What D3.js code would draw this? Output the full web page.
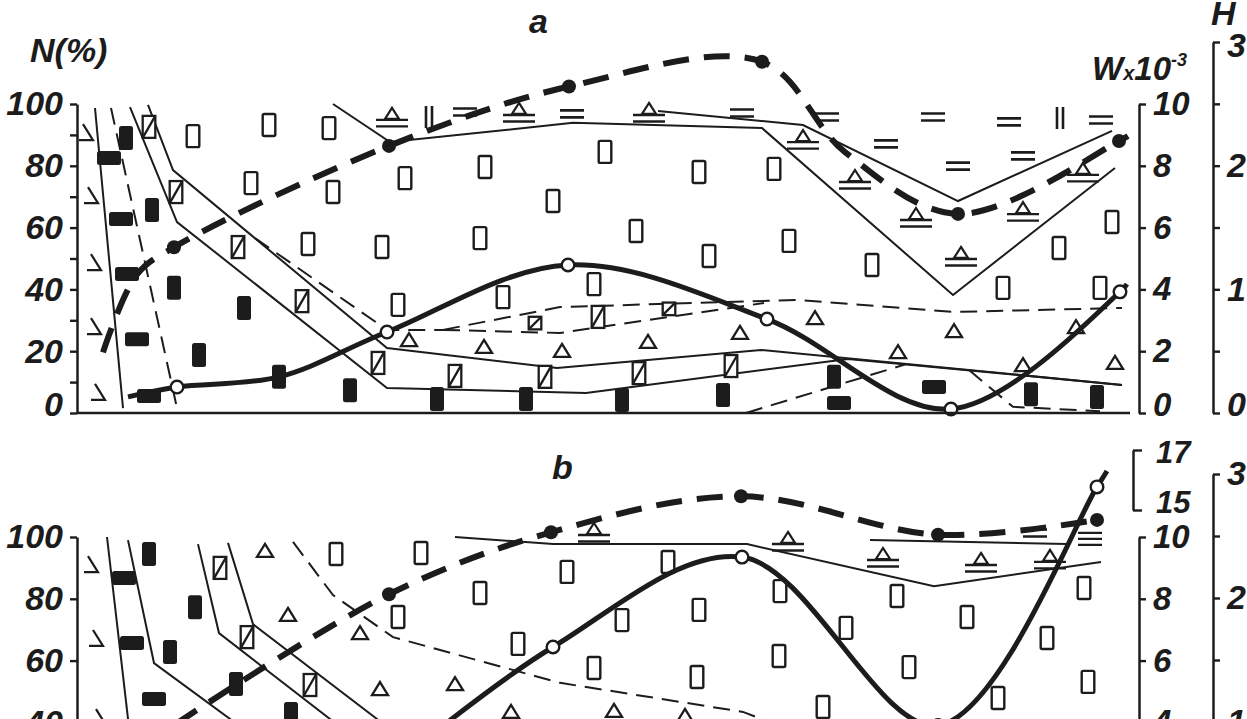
<!DOCTYPE html>
<html><head><meta charset="utf-8">
<script src="https://cdn.jsdelivr.net/npm/d3@7"></script>
<style>
html,body{margin:0;padding:0;background:#fff;overflow:hidden}
svg{display:block}
text{font-family:"Liberation Sans",Arial,sans-serif;font-weight:bold;font-style:italic;fill:#1c1c1c}
</style></head><body>
<svg id="c" width="1247" height="719"></svg>
<script>
// ---------- DATA (x = distance units, N = %, W = x10^-3, H = index) ----------
const X_DOMAIN = [0, 105.2];
const N_TICKS_A = [0,10,20,30,40,50,60,70,80,90,100];
const N_TICKS_B = [0,20,40,60,80,100];
const W_TICKS = [0,2,4,6,8,10];
const W_BREAK_TICKS = [15,17];
const H_TICKS = [0,0.5,1,1.5,2,2.5,3];

// panel a : boundary lines [x, N]
const aL1 = [[1.8,98.7],[4.6,1.6]];
const aL2 = [[3.4,98.7],[10,1.6]];
const aL3 = [[5.3,99],[10,61.8],[31,8.1],[50.9,6.5],[77.1,17.5],[104.5,9.1]];
const aL4 = [[7.1,99.7],[9.6,78.6],[31,21],[48,14.6],[68.4,20.4],[104.5,9.1]];
const aD1 = [[17.8,56.6],[31,26.9],[36.6,26.9]];
const aD1a = [[36.6,26.9],[48.3,34.3],[72,36.6],[87.7,32.7],[104.5,34]];
const aD1b = [[36.6,26.9],[48.3,25.9],[68.7,35.6]];
const aD2 = [[66.9,0],[83,15.9]];
const aD3 = [[89.2,13.9],[93.6,2],[102.3,0.6]];
const aT1 = [[25.6,100],[31.3,87.7],[49.6,93.9],[68.5,92.2],[87.6,38.2],[103.8,79.3]];
const aT2 = [[58.1,97.7],[72.6,93.2],[88.1,68.6],[103.5,91.3]];
// panel a : curves [x, value, marker]
const aH = [[2.6,0.49],[6,1.12],[9.7,1.34,1],[31.2,2.16,1],[49.2,2.64,1],[68.5,2.84,1],[76.8,2.11],[88.1,1.61,1],[104.2,2.2,1],[105.1,2.24]];
const aW = [[5.1,0.52],[10,0.84,1],[20.2,1.17],[31,2.62,1],[49.1,4.79,1],[69,3.04,1],[87.4,0.13,1],[104.3,3.92,1],[105,4.17]];
// panel a : glyphs [x, N]
const aAngle = [[1,90.6],[1.5,70.2],[1.8,48.5],[1.8,27.8],[2.2,6.5]];
const aBlackH = [[3.2,82.5],[4.4,62.8],[5,45],[6,23.9],[7.2,5.5],[76.2,3.2],[85.7,8.4]];
const aBlackV = [[4.9,89],[7.5,65.7],[9.7,40.5],[12.2,18.8],[16.7,34],[20.2,11.7],[27.3,7.4],[36,4.5],[44.9,4.5],[54.5,4.2],[64.6,5.8],[75.7,11.7],[95.4,6.1],[102,5.2]];
const aHatch = [[7.2,92.6],[9.9,71.5],[16.1,53.7],[22.5,36.2],[30.1,16.2],[37.8,12],[46.8,11.7],[56.2,12.9],[65.4,15.2],[52.1,31.1]];
const aHatchSmall = [[45.8,29.1],[59.2,33.7]];
const aRect = [[11.6,89.6],[19.2,93.2],[25.2,92.2],[17.4,74.4],[25.6,71.5],[32.8,76],[23.1,54.7],[30.5,53.7],[32.1,35],[40.8,79.6],[52.8,84.5],[47.6,68.6],[40.3,56.6],[55.9,58.9],[62.2,78],[69.7,79],[63.2,50.8],[71.2,55.7],[42.6,37.5],[51.7,41.7],[79.5,47.9],[98.2,53.4],[103.5,61.8],[92.6,40.5],[102.3,40.5]];
const aTri = [[33.2,23.6],[40.7,21.4],[48.5,20.1],[57.1,23],[66.3,25.9],[73.8,30.7],[82.1,19.7],[87.7,26.5],[94.6,15.5],[99.9,27.8],[103.8,16.2]];
const aTriU = [[31.5,95.5],[44.2,97.1],[57.2,97.1],[72.6,88.3],[77.8,75.4],[83.9,63.1],[88.4,50.5],[94.6,65],[100.6,77.7]];
const aEq = [[38.8,97.4],[49.5,96.8],[66.5,97.1],[75,95.8],[85.6,95.8],[80.9,87.1],[88.1,79.9],[93.2,94.2],[94.6,83.2],[102.4,94.8]];
const aBars = [[35.2,95.8],[98.3,95.5]];

// panel b : boundary lines
const bL1 = [[3,100],[5.5,30]];
const bL2 = [[5.1,99],[7.7,59.2],[20.9,27.8]];
const bL3 = [[12.1,97.7],[14.2,68.9],[25.3,41.1],[30.3,28.5]];
const bL4 = [[15.1,98.1],[17.6,71.8],[30,41.1],[35.3,27.8]];
const bD1 = [[21.6,98.4],[25.6,81.2],[31.6,67.6],[48.3,52.8],[66.6,43.4],[71.3,37.5]];
const bT1 = [[37.8,100],[47.6,97.7],[67,97.7],[85.7,84.1],[102.4,91.9]];
const bT2 = [[79.3,99],[99,97.7]];
// panel b : curves
const bH = [[9.8,0.98],[31.2,2.03,1],[47.4,2.53,1],[66.4,2.82,1],[86.1,2.51,1],[102,2.63,1]];
const bW = [[31.2,2.5],[47.6,6.44,1],[66.5,9.35,1],[86.1,3.9,1],[102,15.77,1],[103,16.3]];
// panel b : glyphs
const bAngle = [[1.5,90.9],[2,67],[2.3,41.4]];
const bBlackH = [[4.7,86.7],[5.5,65.7],[7.7,47.6]];
const bBlackV = [[7.2,94.5],[11.8,77.3],[9.3,62.8],[15.9,52.4],[21.4,42.7]];
const bHatch = [[14.3,90],[17,67.6],[23.3,52.1]];
const bTri = [[18.8,95.5],[21.1,74.8],[28.3,68.9],[30.3,50.8],[37.8,52.4],[43.4,43.4],[53.7,43.7],[60.8,42.1]];
const bRect = [[25.9,94.5],[34.4,94.8],[32.1,74.1],[40.3,81.9],[49,88.7],[59.1,91.9],[54.5,73.1],[44.1,65.4],[51.7,57.6],[62.2,76.4],[62,54.7],[70.3,82.5],[76.9,70.6],[70.2,61.5],[74.6,45],[82,80.9],[89,74.1],[83.2,57.9],[97,67.3],[100.7,83.5],[101.1,53.1],[92.1,47.9]];
const bTriU = [[51.7,101.3],[71.1,98.4],[80.6,93.2],[90.4,91.6],[97.3,92.6]];
const bEq = [[95.8,101.3]];
const bTriple = [[101.3,99.4]];

// ---------- DRAWING ----------
const INK = "#1c1c1c";
const svg = d3.select("#c");
const x = d3.scaleLinear().domain(X_DOMAIN).range([77, 1129]);

const A = {
  n: d3.scaleLinear().domain([0,100]).range([413,104]),
  w: d3.scaleLinear().domain([0,10]).range([413,104]),
  h: d3.scaleLinear().domain([0,3]).range([413,42])
};
const B = {
  n: d3.scaleLinear().domain([0,100]).range([846,537]),
  w: d3.scaleLinear().domain([0,10,15,17]).range([846,537,510,450]),
  wAxis: d3.scaleLinear().domain([0,10]).range([846,537]),
  wBreak: d3.scaleLinear().domain([15,17]).range([510,450]),
  h: d3.scaleLinear().domain([0,3]).range([846,474])
};

function poly(g, pts, ys, dashed) {
  g.append("path")
    .attr("d", d3.line().x(d => x(d[0])).y(d => ys(d[1]))(pts))
    .attr("fill","none").attr("stroke",INK).attr("stroke-width",2)
    .attr("stroke-dasharray", dashed ? "17,9" : null);
}

const glyphDraw = {
  angle: g => g.append("path").attr("d","M-4,-9L6,7L-8,7").attr("fill","none").attr("stroke",INK).attr("stroke-width",2.2),
  blackV: g => g.append("rect").attr("x",-7).attr("y",-12).attr("width",14).attr("height",24).attr("rx",2.5).attr("fill",INK),
  blackH: g => g.append("rect").attr("x",-12).attr("y",-7).attr("width",24).attr("height",14).attr("rx",2.5).attr("fill",INK),
  rect: g => g.append("rect").attr("x",-6.3).attr("y",-11).attr("width",12.6).attr("height",22).attr("rx",1.5).attr("fill","#fff").attr("stroke",INK).attr("stroke-width",2.4),
  hatch: g => { g.append("rect").attr("x",-6.3).attr("y",-11).attr("width",12.6).attr("height",22).attr("fill","#fff").attr("stroke",INK).attr("stroke-width",2.3);
                g.append("path").attr("d","M-6.3,11L6.3,-11").attr("stroke",INK).attr("stroke-width",2.3); },
  hatchSmall: g => { g.append("rect").attr("x",-6.3).attr("y",-6.3).attr("width",12.6).attr("height",12.6).attr("fill","#fff").attr("stroke",INK).attr("stroke-width",2.3);
                g.append("path").attr("d","M-6.3,6.3L6.3,-6.3").attr("stroke",INK).attr("stroke-width",2.3); },
  tri: g => g.append("path").attr("d","M0,-7L8,6L-8,6Z").attr("fill","#fff").attr("stroke",INK).attr("stroke-width",2.3).attr("stroke-linejoin","miter"),
  triU: g => { g.append("path").attr("d","M0,-10L7,1L-7,1Z").attr("fill","#fff").attr("stroke",INK).attr("stroke-width",2.2);
               g.append("path").attr("d","M-16,2H16M-16,8.5H16").attr("stroke",INK).attr("stroke-width",2.4); },
  eq: g => g.append("path").attr("d","M-12,-3.5H12M-12,3.5H12").attr("stroke",INK).attr("stroke-width",2.6),
  bars: g => g.append("path").attr("d","M-3,-11V11M3,-11V11").attr("stroke",INK).attr("stroke-width",2.6),
  triple: g => g.append("path").attr("d","M-12,-6H12M-12,0H12M-12,6H12").attr("stroke",INK).attr("stroke-width",2.2)
};

function glyphs(g, pts, ys, type) {
  g.selectAll(null).data(pts).join("g")
    .attr("transform", d => `translate(${x(d[0])},${ys(d[1])})`)
    .each(function(){ glyphDraw[type](d3.select(this)); });
}

function curve(g, pts, ys, dashed) {
  g.append("path")
    .attr("d", d3.line().curve(d3.curveCatmullRom.alpha(0.5)).x(d => x(d[0])).y(d => ys(d[1]))(pts))
    .attr("fill","none").attr("stroke",INK)
    .attr("stroke-width", dashed ? 6 : 5)
    .attr("stroke-dasharray", dashed ? "26,15" : null);
}
function markers(g, pts, ys, filled) {
  g.selectAll(null).data(pts.filter(d => d[2])).join("circle")
    .attr("cx", d => x(d[0])).attr("cy", d => ys(d[1]))
    .attr("r", filled ? 7 : 6.3)
    .attr("fill", filled ? INK : "#fff")
    .attr("stroke", INK).attr("stroke-width", filled ? 0 : 2.4);
}

function styleAxis(g, fs) {
  g.attr("font-family", null).attr("font-size", null);
  g.select(".domain").attr("stroke",INK).attr("stroke-width",2.5);
  g.selectAll(".tick line").attr("stroke",INK).attr("stroke-width",2.4);
  g.selectAll(".tick text").attr("font-size", fs).attr("fill",INK);
}
const intFmt = d3.format("d");

// ----- panel a -----
const ga = svg.append("g");
[[aL1,0],[aL2,1],[aL3,0],[aL4,0],[aD1,1],[aD1a,1],[aD1b,1],[aD2,1],[aD3,1],[aT1,0],[aT2,0]]
  .forEach(([p,d]) => poly(ga, p, A.n, d));
glyphs(ga, aAngle, A.n, "angle");
glyphs(ga, aBlackH, A.n, "blackH");
glyphs(ga, aBlackV, A.n, "blackV");
glyphs(ga, aHatch, A.n, "hatch");
glyphs(ga, aHatchSmall, A.n, "hatchSmall");
glyphs(ga, aRect, A.n, "rect");
glyphs(ga, aTri, A.n, "tri");
glyphs(ga, aTriU, A.n, "triU");
glyphs(ga, aEq, A.n, "eq");
glyphs(ga, aBars, A.n, "bars");
curve(ga, aH, A.h, true);
curve(ga, aW, A.w, false);
markers(ga, aH, A.h, true);
markers(ga, aW, A.w, false);

// baseline
ga.append("path").attr("d", `M${x(X_DOMAIN[0])},${A.n(0)}H${x(X_DOMAIN[1])+1}`).attr("stroke",INK).attr("stroke-width",2.6);

const axA = svg.append("g").attr("transform","translate(77,0)")
  .call(d3.axisLeft(A.n).tickValues(N_TICKS_A).tickSize(7).tickSizeOuter(0).tickPadding(7)
    .tickFormat(d => d % 20 === 0 ? intFmt(d) : ""));
styleAxis(axA, 34);
const awA = svg.append("g").attr("transform","translate(1139,0)")
  .call(d3.axisRight(A.w).tickValues(W_TICKS).tickSize(7).tickSizeOuter(0).tickPadding(7).tickFormat(intFmt));
styleAxis(awA, 33);
const ahA = svg.append("g").attr("transform","translate(1213,0)")
  .call(d3.axisRight(A.h).tickValues(H_TICKS).tickSize(7).tickSizeOuter(0).tickPadding(7)
    .tickFormat(d => Number.isInteger(d) ? intFmt(d) : ""));
styleAxis(ahA, 34);
[axA, awA, ahA].forEach(g => g.selectAll(".tick").filter(d => d === 0).select("text").attr("y", -8));
ahA.selectAll(".tick").filter(d => d === 3).select("text").attr("y", 4);

// ----- panel b -----
const gb = svg.append("g");
[[bL1,0],[bL2,0],[bL3,0],[bL4,0],[bD1,1],[bT1,0],[bT2,0]].forEach(([p,d]) => poly(gb, p, B.n, d));
glyphs(gb, bAngle, B.n, "angle");
glyphs(gb, bBlackH, B.n, "blackH");
glyphs(gb, bBlackV, B.n, "blackV");
glyphs(gb, bHatch, B.n, "hatch");
glyphs(gb, bRect, B.n, "rect");
glyphs(gb, bTri, B.n, "tri");
glyphs(gb, bTriU, B.n, "triU");
glyphs(gb, bEq, B.n, "eq");
glyphs(gb, bTriple, B.n, "triple");
curve(gb, bH, B.h, true);
curve(gb, bW, B.w, false);
markers(gb, bH, B.h, true);
markers(gb, bW, B.w, false);

const axB = svg.append("g").attr("transform","translate(77,0)")
  .call(d3.axisLeft(B.n).tickValues(N_TICKS_B).tickSize(7).tickSizeOuter(0).tickPadding(7).tickFormat(intFmt));
styleAxis(axB, 34);
const awB = svg.append("g").attr("transform","translate(1139,0)")
  .call(d3.axisRight(B.wAxis).tickValues(W_TICKS).tickSize(7).tickSizeOuter(0).tickPadding(7).tickFormat(intFmt));
styleAxis(awB, 33);
const abB = svg.append("g").attr("transform","translate(1133,0)")
  .call(d3.axisRight(B.wBreak).tickValues(W_BREAK_TICKS).tickSize(9).tickSizeOuter(0).tickPadding(14).tickFormat(intFmt));
styleAxis(abB, 31);
abB.selectAll(".tick").filter(d => d === 17).select("text").attr("y", 3);
abB.selectAll(".tick").filter(d => d === 15).select("text").attr("y", -7);
const ahB = svg.append("g").attr("transform","translate(1213,0)")
  .call(d3.axisRight(B.h).tickValues(H_TICKS).tickSize(7).tickSizeOuter(0).tickPadding(7)
    .tickFormat(d => Number.isInteger(d) ? intFmt(d) : ""));
styleAxis(ahB, 34);

// ----- titles -----
svg.append("text").attr("x",30).attr("y",62).attr("font-size",34).text("N(%)");
svg.append("text").attr("x",529).attr("y",33).attr("font-size",34).text("a");
svg.append("text").attr("x",552).attr("y",479).attr("font-size",34).text("b");
svg.append("text").attr("x",1211).attr("y",25).attr("font-size",34).text("H");
const wt = svg.append("text").attr("x",1092).attr("y",80).attr("font-size",33);
wt.append("tspan").text("W");
wt.append("tspan").attr("font-size",20).text("x");
wt.append("tspan").text("10");
wt.append("tspan").attr("font-size",18).attr("dy",-14).text("-3");
</script>
</body></html>
